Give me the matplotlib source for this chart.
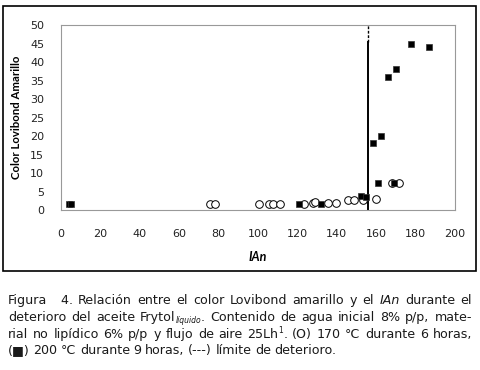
import numpy as np
import matplotlib
matplotlib.use("Agg")
import matplotlib.pyplot as plt
from matplotlib.patches import Rectangle

# datos
ian_170 = [75.6, 78.2, 100.6, 105.7, 107.4, 111.3, 123.2, 128.0, 128.8,
           135.5, 139.6, 145.5, 148.9, 153.1, 159.7, 168.2, 171.8]
col_170 = [1.5, 1.5, 1.5, 1.5, 1.5, 1.5, 1.5, 2.0, 2.2,
           2.0, 1.8, 2.6, 2.7, 2.6, 2.9, 7.4, 7.2]
ian_200 = [4.0, 5.2, 120.6, 131.8, 152.1, 154.8, 158.6, 160.9, 162.6,
           166.0, 169.2, 170.0, 177.5, 187.0]
col_200 = [1.5, 1.5, 1.7, 1.7, 3.8, 3.4, 18.0, 7.2, 20.0,
           36.0, 7.2, 38.0, 45.0, 44.0]
limite = 156
xticks = list(range(0, 201, 20))
yticks = list(range(0, 51, 5))

fig = plt.figure(figsize=(4.8, 3.7), dpi=100)
fig.patches.append(Rectangle((0.006, 0.268), 0.985, 0.716, transform=fig.transFigure,
                             fill=False, edgecolor='black', linewidth=1.2))

ax = fig.add_axes([0.127, 0.4324, 0.821, 0.5])
ax.plot(ian_170, col_170, 'o', mfc='white', mec='black', mew=0.7, ms=5.5, zorder=3)
ax.plot(ian_200, col_200, 's', mfc='black', mec='#333333', mew=0.5, ms=5, zorder=4)
ax.plot([limite, limite], [0, 45.4], color='black', lw=1.4, zorder=2)
ax.plot([limite, limite], [45.4, 50], color='black', lw=1.0, ls=(0, (2, 1.2)), zorder=2)

ax.set_xlim(0, 200)
ax.set_ylim(0, 50)
ax.set_xticks(xticks)
ax.set_yticks(yticks)
ax.tick_params(length=0, labelsize=8, colors='#222222')
ax.tick_params(axis='x', pad=14)
ax.tick_params(axis='y', pad=12)
for s in ax.spines.values():
    s.set_color('#999999')
    s.set_linewidth(0.8)
ax.set_xlabel('IAn', family='Lato', weight='bold', style='italic', fontsize=9, labelpad=8)
ax.set_ylabel('Color Lovibond Amarillo', family='Lato', weight='bold', fontsize=8.2, labelpad=6)

# pie de figura justificado
renderer = fig.canvas.get_renderer()
x0, x1 = 8 / 480, 472 / 480
fs = 9.1
cap = dict(family='DejaVu Sans', color='#1a1a1a', va='baseline')

def pieza(s, y, **kw):
    d = dict(cap, fontsize=fs)
    d.update(kw)
    return fig.text(0, y, s, **d)

def linea(tokens, y, justificar=True):
    # cada palabra es una lista de piezas (texto, opciones) pegadas
    palabras = []
    for t in tokens:
        if isinstance(t, str):
            t = [(t, {})]
        piezas = []
        for s, kw in t:
            kw = dict(kw)
            dy = kw.pop('dy', 0)
            tx = pieza(s, y + dy, **kw)
            piezas.append((tx, tx.get_window_extent(renderer).width / fig.bbox.width))
        palabras.append(piezas)
    ws = [sum(w for _, w in p) for p in palabras]
    if justificar:
        gap = ((x1 - x0) - sum(ws)) / (len(palabras) - 1)
    else:
        gap = 0.0075
    x = x0
    for p, w in zip(palabras, ws):
        xx = x
        for tx, wp in p:
            tx.set_x(xx)
            xx += wp
        x += w + gap

y1 = 1 - 304 / 370
dl = 16.8 / 370
linea(['Figura', '  4.', 'Relación', 'entre', 'el', 'color', 'Lovibond', 'amarillo', 'y', 'el',
       [('IAn', {'style': 'italic'})], 'durante', 'el'], y1)
linea(['deterioro', 'del', 'aceite',
       [('Frytol', {}), ('líquido', {'style': 'italic', 'fontsize': 5.5, 'dy': -0.006}), ('.', {})],
       'Contenido', 'de', 'agua', 'inicial', '8%', 'p/p,', 'mate-'], y1 - dl)
linea(['rial', 'no', 'lipídico', '6%', 'p/p', 'y', 'flujo', 'de', 'aire',
       [('25Lh', {}), ('1', {'fontsize': 5.5, 'dy': 0.012}), ('.', {})], '(O)',
       '170', '°C', 'durante', '6', 'horas,'], y1 - 2 * dl)
linea(['(■)', '200', '°C', 'durante', '9', 'horas,', '(---)', 'límite', 'de', 'deterioro.'],
      y1 - 3 * dl, justificar=False)

fig.savefig('out.png', dpi=100)
